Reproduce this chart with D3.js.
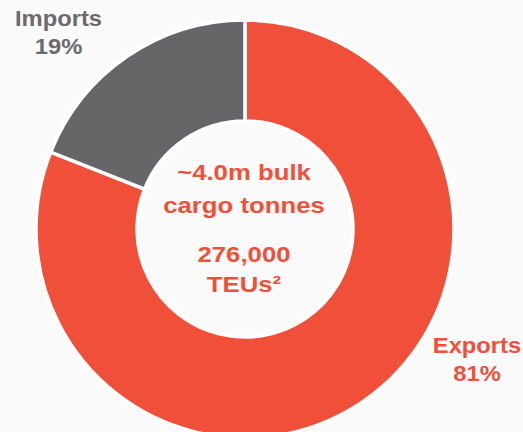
<!DOCTYPE html>
<html>
<head>
<meta charset="utf-8">
<script src="https://cdn.jsdelivr.net/npm/d3@7"></script>
<style>
  html, body { margin: 0; padding: 0; background: #fafafa; }
  svg { display: block; }
</style>
</head>
<body>
<div id="chart"></div>
<script>
// data
var categories = ["Exports", "Imports"];
var shares = [81, 19];
var colors = ["#f05039", "#666668"];
var labelColors = ["#f05039", "#6b6b6d"];
var centerLines = ["~4.0m bulk", "cargo tonnes", "276,000", "TEUs\u00b2"];

var width = 523, height = 432;
var cx = 245, cy = 229;
var outerR = 209, innerR = 108;

var svg = d3.select("#chart").append("svg")
    .attr("width", width)
    .attr("height", height);

svg.append("rect")
    .attr("width", width)
    .attr("height", height)
    .attr("fill", "#fafafa");

var g = svg.append("g").attr("transform", "translate(" + cx + "," + cy + ")");

// pie goes clockwise from 12 o'clock: exports first so imports ends up on the left of the top
var pie = d3.pie().sort(null).value(function (d) { return d.v; });
var data = categories.map(function (c, i) { return { name: c, v: shares[i], color: colors[i] }; });

var arc = d3.arc().innerRadius(innerR).outerRadius(outerR);

g.selectAll("path.slice")
    .data(pie(data))
    .enter().append("path")
    .attr("class", "slice")
    .attr("d", arc)
    .attr("fill", function (d) { return d.data.color; })
    .attr("stroke", "#ffffff")
    .attr("stroke-width", 3.5)
    .attr("stroke-linejoin", "miter");

// text in the middle
var ctext = [
    { t: centerLines[0], y: 180 },
    { t: centerLines[1], y: 213 },
    { t: centerLines[2], y: 262 },
    { t: centerLines[3], y: 292 }
];
svg.selectAll("text.center")
    .data(ctext)
    .enter().append("text")
    .attr("class", "center")
    .attr("transform", function (d) { return "translate(244," + d.y + ") scale(1.17,1)"; })
    .attr("text-anchor", "middle")
    .attr("font-family", "Liberation Sans, Arial, sans-serif")
    .attr("font-weight", "bold")
    .attr("font-size", 22)
    .attr("fill", "#f05039")
    .text(function (d) { return d.t; });

// outside labels
var labels = [
    { lines: [categories[1], shares[1] + "%"], x: 58.5, y: [26, 54], color: labelColors[1] },
    { lines: [categories[0], shares[0] + "%"], x: 477, y: [353, 381], color: labelColors[0] }
];
labels.forEach(function (l) {
    l.lines.forEach(function (t, i) {
        svg.append("text")
            .attr("transform", "translate(" + l.x + "," + l.y[i] + ") scale(1.08,1)")
            .attr("text-anchor", "middle")
            .attr("font-family", "Liberation Sans, Arial, sans-serif")
            .attr("font-weight", "bold")
            .attr("font-size", 22)
            .attr("fill", l.color)
            .text(t);
    });
});
</script>
</body>
</html>
